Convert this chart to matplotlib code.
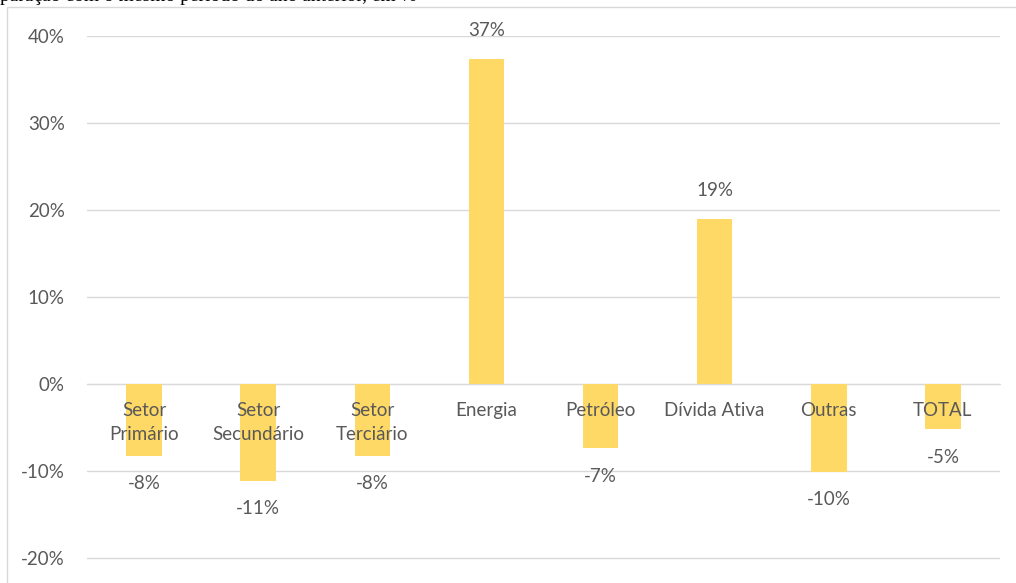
import numpy as np
import matplotlib.pyplot as plt
from matplotlib.patches import Rectangle

categories = ["Setor\nPrimário", "Setor\nSecundário", "Setor\nTerciário", "Energia",
              "Petróleo", "Dívida Ativa", "Outras", "TOTAL"]
values = [-8.3, -11.1, -8.3, 37.4, -7.4, 19.0, -10.1, -5.2]
yticks = [-20, -10, 0, 10, 20, 30, 40]

gray = "#595959"
bar_color = "#FFD966"
fs = 13.5

fig = plt.figure(figsize=(10.16, 5.83), dpi=100)
W, H = 1016, 583
ax = fig.add_axes([87 / W, 1 - 562.35 / H, (1000 - 87) / W, (562.35 - 36) / H])

# frame of the chart area (cut off on the right and bottom)
fig.patches.append(Rectangle((7 / W, -0.1), 1.2, 1 - 7 / H + 0.1, transform=fig.transFigure,
                             fill=False, edgecolor="#D9D9D9", linewidth=1))

# caption line from the document, mostly cropped above the image
fig.text(0.0, 1 - 1 / H, "paração com o mesmo período do ano anterior, em %",
         family="Liberation Serif", fontsize=14, color="black", va="baseline", ha="left")

x = np.arange(len(categories))
ax.bar(x, values, width=0.31, color=bar_color, zorder=2)

ax.set_xlim(-0.5, len(categories) - 0.5)
ax.set_ylim(-20.5, 40)
ax.set_yticks(yticks)
ax.set_yticklabels([f"{t}%" for t in yticks], family="Lato", fontsize=fs, color=gray)
ax.yaxis.grid(True, color="#D9D9D9", linewidth=1, zorder=0)
ax.tick_params(axis="y", length=0, pad=16)

ax.spines["bottom"].set_position(("data", 0))
ax.spines["bottom"].set_color("#D9D9D9")
ax.spines["bottom"].set_zorder(1)
for s in ["top", "right", "left"]:
    ax.spines[s].set_visible(False)
ax.set_xticks(x)
ax.set_xticklabels(categories, family="Lato", fontsize=fs, color=gray, linespacing=1.5)
ax.tick_params(axis="x", length=0, pad=13)
ax.xaxis.set_zorder(3)

for xi, v in zip(x, values):
    off = 20 if v > 0 else -20
    ax.annotate(f"{round(v):d}%", (xi, v), xytext=(0, off), textcoords="offset points",
                ha="center", va="center", family="Lato", fontsize=fs, color=gray)

fig.savefig("out.png", dpi=100)
